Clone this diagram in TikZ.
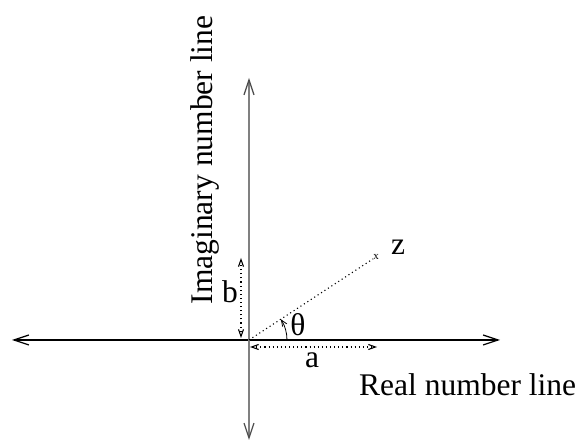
\documentclass[tikz,border=0pt]{standalone}
\usepackage{fontspec}
\setmainfont{Liberation Serif}
\usetikzlibrary{arrows.meta}
\begin{document}
\begin{tikzpicture}[x=1pt,y=1pt,
  axis/.style={line width=1.2pt},
  lbl/.style={font=\fontsize{31.5}{37}\selectfont, inner sep=0pt},
  dots/.style={line width=1.1pt, dash pattern=on 1.1pt off 3pt}]
\useasboundingbox (0,0) rectangle (579,446);
\coordinate (O) at (249,106);
\coordinate (L) at (12,106);
\coordinate (R) at (500,106);
\coordinate (T) at (249,368);
\coordinate (B) at (249,6);
\draw[axis, {Straight Barb[length=15pt,width=10pt]}-{Straight Barb[length=15pt,width=10pt]}] (L) -- (R);
\draw[axis, gray, {Straight Barb[length=15pt,width=10pt,color=black!70]}-{Straight Barb[length=15pt,width=10pt,color=black!70]}] (B) -- (T);
\node[inner sep=0pt, font=\fontsize{11}{12}\selectfont] (zm) at (376,189) {x};
\draw[dots] (O) -- (zm);
\node[lbl, anchor=base] (z) at (398,191) {z};
\coordinate (b0) at (241,108);
\coordinate (b1) at (241,188);
\draw[dots, {Straight Barb[length=7pt,width=5pt]}-{Straight Barb[length=7pt,width=5pt]}] (b0) -- (b1);
\node[lbl] (b) at (230,154) {b};
\coordinate (a0) at (250,99);
\coordinate (a1) at (377,99);
\draw[dots, {Straight Barb[length=7pt,width=5pt]}-{Straight Barb[length=7pt,width=5pt]}] (a0) -- (a1);
\node[lbl] (a) at (312,86) {a};
\draw[line width=0.8pt, -{Straight Barb[length=6pt,width=5pt]}] ([xshift=38pt]O) arc[start angle=0, end angle=33, radius=38];
\node[lbl] (th) at (298,121) {θ};
\node[lbl, rotate=90] (im) at (205,286) {Imaginary number line};
\node[lbl, anchor=base west] (re) at (359,50) {Real number line};
\end{tikzpicture}
\end{document}
